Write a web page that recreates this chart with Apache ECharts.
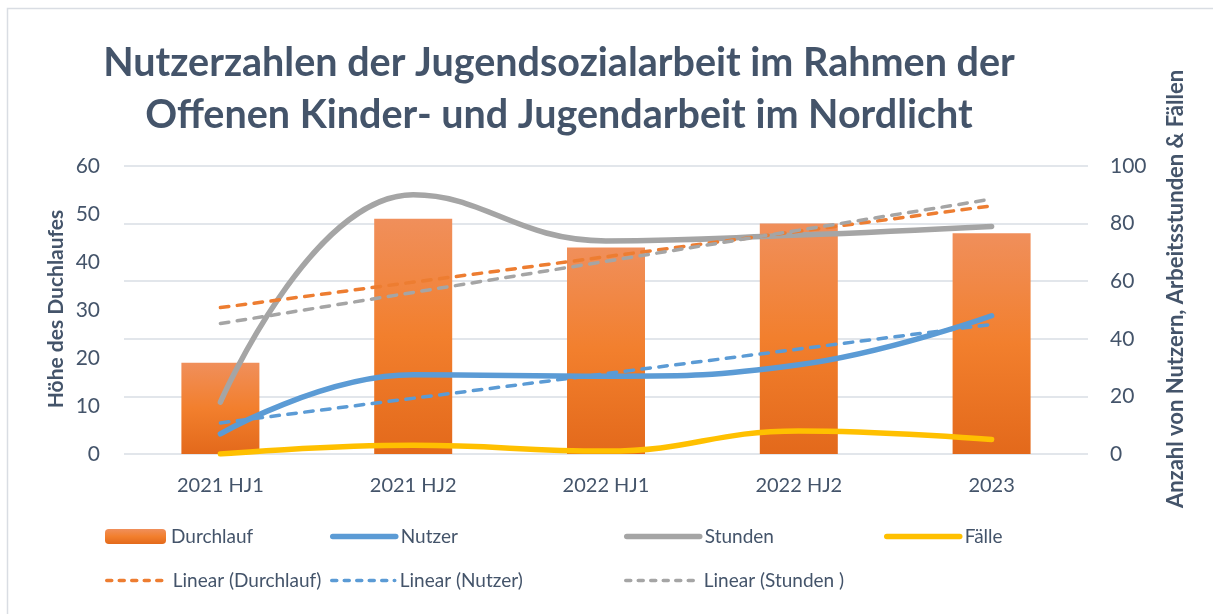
<!DOCTYPE html>
<html><head><meta charset="utf-8">
<script src="https://cdn.jsdelivr.net/npm/echarts@6/dist/echarts.min.js"></script>
<style>html,body{margin:0;padding:0;background:#fff}#c{width:1213px;height:614px}</style>
</head><body><div id="c"></div>
<script>
// ---- data ----
const categories = ['2021 HJ1', '2021 HJ2', '2022 HJ1', '2022 HJ2', '2023'];
const durchlauf = [19, 49, 43, 48, 46];          // left axis
const nutzer = [7, 27.5, 27, 31, 48];            // right axis
const stunden = [18, 90, 74, 76, 79];            // right axis
const faelle = [0, 3, 1, 8, 5];                  // right axis
// linear trend lines: start/end values
const trendDurchlauf = [30.5, null, null, null, 51.7];
const trendNutzer = [10.8, null, null, null, 45];
const trendStunden = [45.3, null, null, null, 88.5];
const titleLines = ['Nutzerzahlen der Jugendsozialarbeit im Rahmen der', 'Offenen Kinder- und Jugendarbeit im Nordlicht'];
const leftAxisName = 'Höhe des Duchlaufes';
const rightAxisName = 'Anzahl von Nutzern, Arbeitsstunden & Fällen';

const FONT = 'Lato, "Open Sans", sans-serif';
const TXT = '#44546A';
const C_OR = '#ED7D31', C_BL = '#5B9BD5', C_GR = '#A5A5A5', C_YE = '#FFC000';

const barGrad = new echarts.graphic.LinearGradient(0, 0, 0, 1, [
  {offset: 0, color: '#F08F5B'},
  {offset: 0.5, color: '#F27F2D'},
  {offset: 1, color: '#E3691B'}
]);

function lineSeries(name, data, color, axis, dashed) {
  return {
    name, type: 'line', data, yAxisIndex: axis,
    smooth: dashed ? false : 0.45,
    connectNulls: true,
    symbol: 'none', showSymbol: false,
    lineStyle: {color, width: dashed ? 3.5 : 5.5, type: dashed ? [8.5, 8.5] : 'solid', cap: 'round', join: 'round'},
    itemStyle: {color},
    z: dashed ? 4 : 3,
    silent: true
  };
}

function legendAt(name, left, top, w, kind) {
  const l = {
    data: [name], left, top, itemWidth: w, itemHeight: 15, itemGap: 0,
    textStyle: {fontFamily: FONT, fontSize: 19, color: TXT},
    selectedMode: false
  };
  if (kind === 'solid') {
    l.itemStyle = {opacity: 0};
    l.lineStyle = {width: 5.5, cap: 'round'};
  } else if (kind === 'dash') {
    l.itemStyle = {opacity: 0};
    l.lineStyle = {width: 3.5, cap: 'round', type: [5, 7.5]};
  }
  return l;
}

const chart = echarts.init(document.getElementById('c'), null, {renderer: 'canvas'});
chart.setOption({
  animation: false,
  backgroundColor: '#fff',
  title: {
    text: titleLines.join('\n'),
    left: 554, top: 32, textAlign: 'center',
    textStyle: {fontFamily: FONT, fontSize: 39.5, fontWeight: 'bold', color: TXT, lineHeight: 52}
  },
  grid: {left: 124, right: 125, top: 166, height: 288},
  legend: [
    legendAt('Durchlauf', 100, 522, 61, 'bar'),
    legendAt('Nutzer', 325, 522, 63, 'solid'),
    legendAt('Stunden', 619, 522, 73, 'solid'),
    legendAt('Fälle', 879, 522, 73, 'solid'),
    legendAt('Linear (Durchlauf)', 100, 566, 61, 'dash'),
    legendAt('Linear (Nutzer)', 325, 566, 63, 'dash'),
    legendAt('Linear (Stunden )', 619, 566, 73, 'dash')
  ],
  xAxis: {
    type: 'category', data: categories,
    axisLine: {show: false}, axisTick: {show: false},
    axisLabel: {fontFamily: FONT, fontSize: 20, color: TXT, margin: 22}
  },
  yAxis: [
    {
      type: 'value', min: 0, max: 60, interval: 10,
      axisLine: {show: false}, axisTick: {show: false}, splitLine: {show: false},
      axisLabel: {fontFamily: FONT, fontSize: 21, color: TXT, margin: 24}
    },
    {
      type: 'value', min: 0, max: 100, interval: 20,
      axisLine: {show: false}, axisTick: {show: false},
      splitLine: {show: true, lineStyle: {color: '#D9DEE5', width: 1.5}},
      axisLabel: {fontFamily: FONT, fontSize: 21, color: TXT, margin: 22}
    }
  ],
  series: [
    {name: 'Durchlauf', type: 'bar', data: durchlauf, yAxisIndex: 0, barWidth: 78,
     itemStyle: {color: barGrad}, z: 2, silent: true},
    lineSeries('Nutzer', nutzer, C_BL, 1, false),
    lineSeries('Stunden', stunden, C_GR, 1, false),
    lineSeries('Fälle', faelle, C_YE, 1, false),
    lineSeries('Linear (Durchlauf)', trendDurchlauf, C_OR, 0, true),
    lineSeries('Linear (Nutzer)', trendNutzer, C_BL, 1, true),
    lineSeries('Linear (Stunden )', trendStunden, C_GR, 1, true)
  ],
  graphic: [
    {type: 'rect', z: -10, shape: {x: 7.5, y: 8.5, width: 1300, height: 700},
     style: {fill: null, stroke: '#D9DDE3', lineWidth: 1.5}},
    {type: 'text', x: 56, y: 309, rotation: Math.PI / 2,
     style: {text: leftAxisName, fontFamily: FONT, fontSize: 21, fontWeight: 'bold', fill: TXT,
             textAlign: 'center', textVerticalAlign: 'middle'}},
    {type: 'text', x: 1176, y: 289, rotation: Math.PI / 2,
     style: {text: rightAxisName, fontFamily: FONT, fontSize: 22, fontWeight: 'bold', fill: TXT,
             textAlign: 'center', textVerticalAlign: 'middle'}}
  ]
});
</script>
</body></html>
